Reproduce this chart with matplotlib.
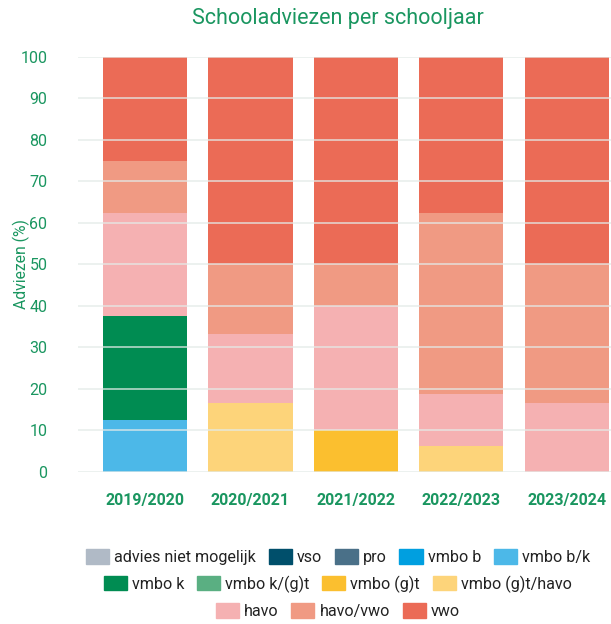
import matplotlib.pyplot as plt
import matplotlib.patches as mpatches
import numpy as np

plt.rcParams['font.family'] = ['Roboto', 'DejaVu Sans']

jaren = ['2019/2020', '2020/2021', '2021/2022', '2022/2023', '2023/2024']
adviezen = ['advies niet mogelijk', 'vso', 'pro', 'vmbo b', 'vmbo b/k',
            'vmbo k', 'vmbo k/(g)t', 'vmbo (g)t', 'vmbo (g)t/havo',
            'havo', 'havo/vwo', 'vwo']
kleuren = ['#b0bac6', '#004f6b', '#4a7088', '#009fe0', '#4cb8e8',
           '#008c52', '#5aaf82', '#fbbf2f', '#fdd47a',
           '#f5b1b2', '#f09a83', '#eb6b56']

# percentages per advies, per schooljaar
waarden = {
    'advies niet mogelijk': [0, 0, 0, 0, 0],
    'vso': [0, 0, 0, 0, 0],
    'pro': [0, 0, 0, 0, 0],
    'vmbo b': [0, 0, 0, 0, 0],
    'vmbo b/k': [12.5, 0, 0, 0, 0],
    'vmbo k': [25, 0, 0, 0, 0],
    'vmbo k/(g)t': [0, 0, 0, 0, 0],
    'vmbo (g)t': [0, 0, 10, 0, 0],
    'vmbo (g)t/havo': [0, 16.67, 0, 6.25, 0],
    'havo': [25, 16.67, 30, 12.5, 16.67],
    'havo/vwo': [12.5, 16.67, 10, 43.75, 33.33],
    'vwo': [25, 50, 50, 37.5, 50],
}

groen = '#1a9660'

fig = plt.figure(figsize=(6.11, 6.24), dpi=100)
ax = fig.add_axes([0.1277, 0.2436, 0.8723, 0.6651])

x = np.arange(len(jaren))
onder = np.zeros(len(jaren))
for naam, kleur in zip(adviezen, kleuren):
    v = np.array(waarden[naam])
    ax.bar(x, v, 0.8, bottom=onder, color=kleur, zorder=2)
    onder += v

ax.set_ylim(0, 100)
ax.set_xlim(-0.635, 4.42)
ax.set_yticks(np.arange(0, 101, 10))
for t in np.arange(0, 101, 10):
    ax.axhline(t, color='#e3ebe8', lw=1.2, alpha=0.8, zorder=3)

ax.set_xticks(x)
ax.set_xticklabels(jaren, fontweight='bold', fontsize=11.5, color=groen)
ax.tick_params(axis='y', labelsize=11.5, labelcolor=groen, length=0, pad=22)
ax.tick_params(axis='x', length=0, pad=15)
for s in ax.spines.values():
    s.set_visible(False)

ax.set_ylabel('Adviezen (%)', color=groen, fontsize=11.3)
ax.yaxis.set_label_coords(-0.09, 0.5)
fig.text(0.553, 0.971, 'Schooladviezen per schooljaar', ha='center', va='center',
         color=groen, fontsize=15.5)

# legenda in drie rijen (5, 4, 3)
rijen = [adviezen[0:5], adviezen[5:9], adviezen[9:12]]
ys = [0.1074, 0.0641, 0.0208]
for rij, y in zip(rijen, ys):
    handles = [mpatches.Patch(color=kleuren[adviezen.index(n)], label=n) for n in rij]
    fig.legend(handles=handles, loc='center', bbox_to_anchor=(0.553, y),
               ncol=len(rij), frameon=False, fontsize=11.6,
               handlelength=1.43, handleheight=1.0, handletextpad=0.31,
               columnspacing=0.8, borderpad=0, labelcolor='#222222')

fig.savefig('out.png', dpi=100)
